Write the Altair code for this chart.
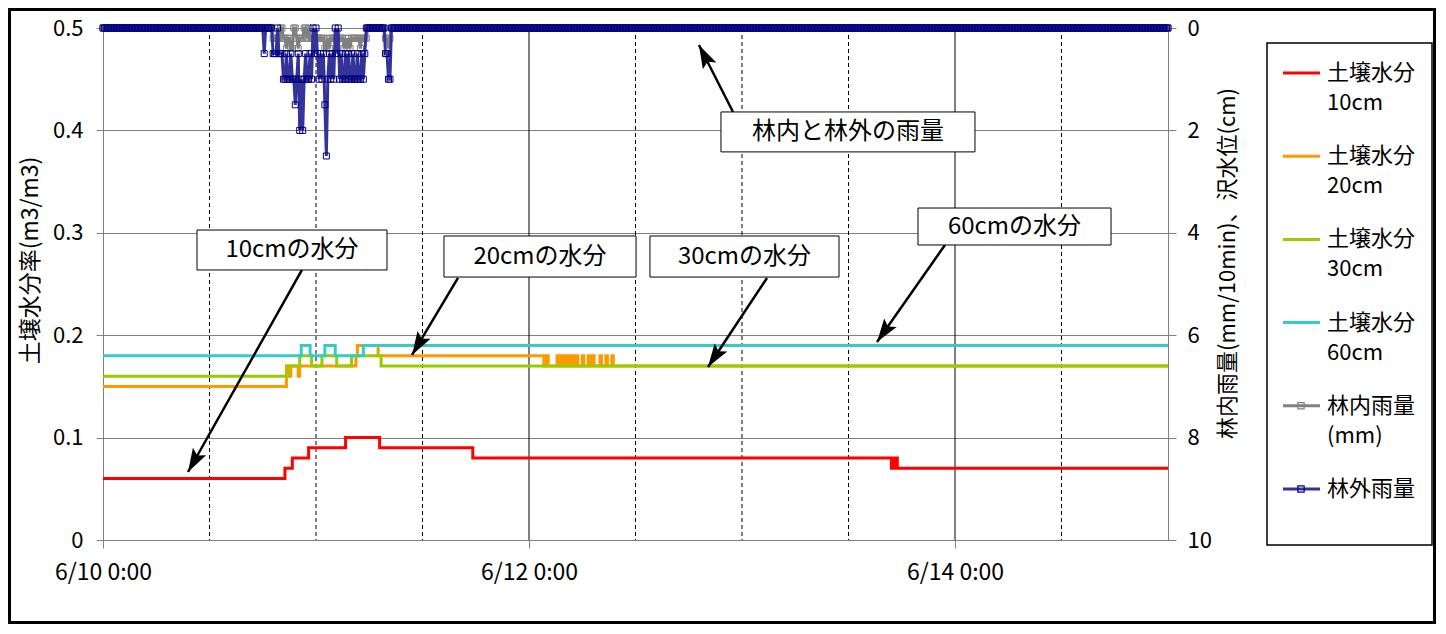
import math
import altair as alt
import pandas as pd

FONT = "Noto Sans CJK JP"

# ---------------- axis ticks ----------------
x_tick_hours = [0, 48, 96]
x_tick_labels = ["6/10 0:00", "6/12 0:00", "6/14 0:00"]
major_grid_hours = [48, 96]
minor_grid_hours = [12, 24, 36, 60, 72, 84, 108]
left_ticks = [0, 0.1, 0.2, 0.3, 0.4, 0.5]
right_ticks = [0, 2, 4, 6, 8, 10]

# ---------------- soil moisture (change points, step) ----------------
red_times = ["6/10 0:00", "6/10 20:30", "6/10 21:20", "6/10 23:10", "6/11 3:20", "6/11 7:10",
             "6/11 17:40", "6/13 16:50", "6/13 17:00", "6/13 17:10", "6/13 17:20", "6/13 17:30", "6/15 0:00"]
red_vals = [0.06, 0.07, 0.08, 0.09, 0.10, 0.09, 0.08, 0.07, 0.08, 0.07, 0.08, 0.07, 0.07]

orange_times = ["6/10 0:00", "6/10 20:40", "6/10 21:00", "6/10 21:10", "6/10 22:00", "6/10 22:10",
                "6/11 4:30", "6/11 4:40", "6/11 7:00"]
orange_vals = [0.15, 0.17, 0.16, 0.17, 0.16, 0.17, 0.18, 0.19, 0.18]
orange_wobble_start = "6/12 1:20"   # 10-minute readings
orange_wobble = [0.18, 0.18, 0.17, 0.17, 0.18, 0.17, 0.17, 0.17, 0.17, 0.17, 0.17, 0.18, 0.17,
                 0.17, 0.18, 0.17, 0.18, 0.17, 0.17, 0.18, 0.17, 0.17, 0.18, 0.17, 0.18, 0.17,
                 0.17, 0.17, 0.18, 0.17, 0.17, 0.17, 0.18, 0.17, 0.17, 0.18, 0.17, 0.17, 0.17,
                 0.17, 0.18, 0.17, 0.17, 0.17, 0.18, 0.17, 0.17, 0.17, 0.18]
orange_after_times = ["6/12 9:30", "6/15 0:00"]
orange_after_vals = [0.17, 0.17]

green_times = ["6/10 0:00", "6/10 20:50", "6/10 22:10", "6/10 23:30", "6/11 0:40", "6/11 2:20",
               "6/11 4:00", "6/11 7:20", "6/15 0:00"]
green_vals = [0.16, 0.17, 0.18, 0.17, 0.18, 0.17, 0.18, 0.17, 0.17]

cyan_times = ["6/10 0:00", "6/10 22:20", "6/10 23:20", "6/11 1:00", "6/11 2:10", "6/11 5:20", "6/15 0:00"]
cyan_vals = [0.18, 0.19, 0.18, 0.19, 0.18, 0.19, 0.19]

# ---------------- rainfall (10-minute values, mm) ----------------
series_start = "6/10 0:00"
series_end = "6/15 0:00"
rain_start = "6/10 18:00"
outside_rain = [0, 0.5, 0, 0, 0, 0, 0, 0.5, 0.5, 0.5, 0, 0.5, 0.5, 0.5, 1.0, 1.0, 0.5, 1.0, 1.0, 0.5,
                1.0, 1.0, 1.5, 1.0, 0.5, 2.0, 1.0, 2.0, 1.0, 0.5, 1.0, 1.0, 0.5, 1.0, 0, 0.5, 0, 0.5,
                1.0, 0.5, 1.0, 0.5, 1.5, 2.5, 1.0, 0.5, 1.0, 0.5, 1.0, 0, 0.5, 0, 1.0, 0.5, 1.0, 1.0,
                0.5, 1.0, 0.5, 1.0, 1.0, 0.5, 1.0, 1.0, 0.5, 1.0, 1.0, 0.5, 1.0, 0.5,
                0, 0, 0, 0, 0, 0, 0, 0, 0, 0, 0, 0, 0, 0.5, 0.5, 1.0, 1.0, 0]
inside_rain = [0, 0, 0, 0, 0, 0, 0, 0.2, 0.2, 0.2, 0.2, 0.2, 0, 0, 0.2, 0.2, 0.4, 0.2, 0.2, 0.4,
               0.4, 0, 0, 0.2, 0.4, 0.2, 0.2, 0.2, 0, 0, 0.2, 0, 0.2, 0.2, 0.2, 0.2, 0.2, 0.2,
               0.2, 0.2, 0.2, 0.2, 0.4, 0.4, 0.2, 0.4, 0.2, 0.2, 0.2, 0.2, 0.2, 0.2, 0.2, 0.2,
               0.2, 0.4, 0.2, 0.4, 0.2, 0.4, 0.2, 0.2, 0.2, 0.2, 0.2, 0.2, 0.4, 0.2, 0.2, 0.2,
               0.2, 0, 0, 0, 0, 0, 0, 0, 0, 0, 0, 0, 0, 0.2, 0.2, 0.4, 0.2, 0]

# ---------------- legend & annotation texts ----------------
legend_line1 = ["土壌水分", "土壌水分", "土壌水分", "土壌水分", "林内雨量", "林外雨量"]
legend_line2 = ["10cm", "20cm", "30cm", "60cm", "(mm)", ""]
legend_colors = ["#FF0000", "#FF9900", "#99CC00", "#33CCCC", "#808080", "#333399"]
legend_marker_colors = ["", "", "", "", "#808080", "#000080"]

annotations = [
    {"text": "林内と林外の雨量", "h0": 69.63, "h1": 98.25, "v0": 0.418, "v1": 0.379,
     "th": 70.99, "tv": 0.418, "hh": 67.15, "hv": 0.4834},
    {"text": "10cmの水分", "h0": 10.59, "h1": 32.0, "v0": 0.3027, "v1": 0.2637,
     "th": 22.42, "tv": 0.2637, "hh": 9.58, "hv": 0.0664},
    {"text": "20cmの水分", "h0": 38.42, "h1": 60.06, "v0": 0.2969, "v1": 0.2568,
     "th": 40.0, "tv": 0.2559, "hh": 34.82, "hv": 0.1807},
    {"text": "30cmの水分", "h0": 61.63, "h1": 82.93, "v0": 0.2969, "v1": 0.2568,
     "th": 74.82, "tv": 0.2559, "hh": 68.17, "hv": 0.169},
    {"text": "60cmの水分", "h0": 91.83, "h1": 113.58, "v0": 0.3242, "v1": 0.2881,
     "th": 94.87, "tv": 0.2881, "hh": 87.21, "hv": 0.1934},
]

# ---------------- helpers ----------------
W, H = 1065, 512


def to_hours(s):
    d, t = s.split(" ")
    _, day = d.split("/")
    hh, mm = t.split(":")
    return (int(day) - 10) * 24 + int(hh) + int(mm) / 60.0


def step_df(times, vals):
    return pd.DataFrame({"h": [to_hours(t) for t in times], "v": vals})


x_end = to_hours(series_end)
xscale = alt.Scale(domain=[to_hours(series_start), x_end], nice=False, zero=False)
xexpr = " : ".join(f"datum.value == {h} ? '{l}'" for h, l in zip(x_tick_hours, x_tick_labels)) + " : ''"
xaxis = alt.Axis(values=x_tick_hours, labelExpr=xexpr, title=None, grid=False,
                 domainColor="#808080", tickColor="#808080", tickSize=8,
                 labelFont=FONT, labelFontSize=23, labelColor="black", labelPadding=13,
                 labelFlush=False, labelOverlap=False, labelBound=False)


def X(field="h"):
    return alt.X(f"{field}:Q", scale=xscale, axis=xaxis)


lscale = alt.Scale(domain=[0, 0.5], nice=False, zero=False)
laxis = alt.Axis(values=left_ticks, labelExpr="datum.value == 0 ? '0' : format(datum.value, '.1f')",
                 title="土壌水分率(m3/m3)", grid=True, gridColor="#808080", gridWidth=1,
                 domainColor="#808080", tickColor="#808080", tickSize=7,
                 labelFont=FONT, labelFontSize=22, labelColor="black", labelPadding=13,
                 titleFont=FONT, titleFontSize=23, titleFontWeight="normal", titleColor="black",
                 titleX=-73, titleY=232, titleAngle=270, titleAlign="center", titleBaseline="middle")


def YL(field="v"):
    return alt.Y(f"{field}:Q", scale=lscale, axis=laxis)


rscale = alt.Scale(domain=[0, 10], reverse=True, nice=False, zero=False)
raxis = alt.Axis(orient="right", values=right_ticks, title="林内雨量(mm/10min)、沢水位(cm)", grid=False,
                 domainColor="#808080", tickColor="#808080", tickSize=8,
                 labelFont=FONT, labelFontSize=22, labelColor="black", labelPadding=11,
                 titleFont=FONT, titleFontSize=22, titleFontWeight="normal", titleColor="black",
                 titleX=59, titleY=235, titleAngle=270, titleAlign="center", titleBaseline="middle")


def YR(field):
    return alt.Y(f"{field}:Q", scale=rscale, axis=raxis)


# ---------------- data frames ----------------
red_df = step_df(red_times, red_vals)
ws = to_hours(orange_wobble_start)
orange_df = pd.concat([
    step_df(orange_times, orange_vals),
    pd.DataFrame({"h": [ws + i / 6.0 for i in range(len(orange_wobble))], "v": orange_wobble}),
    step_df(orange_after_times, orange_after_vals),
], ignore_index=True)
green_df = step_df(green_times, green_vals)
cyan_df = step_df(cyan_times, cyan_vals)

n_total = int(round(x_end * 6)) + 1
r0 = int(round(to_hours(rain_start) * 6))
out_full = [0.0] * n_total
in_full = [0.0] * n_total
for i, v in enumerate(outside_rain):
    out_full[r0 + i] = v
for i, v in enumerate(inside_rain):
    in_full[r0 + i] = v
rain_df = pd.DataFrame({"h": [i / 6.0 for i in range(n_total)], "out": out_full, "inn": in_full})

ann_df = pd.DataFrame(annotations)
ann_df["cx"] = (ann_df["h0"] + ann_df["h1"]) / 2
ann_df["cy"] = (ann_df["v0"] + ann_df["v1"]) / 2
pxh = W / x_end
pxv = H / 0.5


def arrow_angle(r):
    dx = (r["hh"] - r["th"]) * pxh
    dy = -(r["hv"] - r["tv"]) * pxv
    return math.degrees(math.atan2(dx, -dy)) % 360


ann_df["ang"] = ann_df.apply(arrow_angle, axis=1)

grid_df = pd.DataFrame({"h": major_grid_hours})
mgrid_df = pd.DataFrame({"h": minor_grid_hours})

leg_df = pd.DataFrame({"l1": legend_line1, "l2": legend_line2, "c": legend_colors, "mc": legend_marker_colors})
leg_df["y1"] = [45 + 83.2 * i for i in range(len(leg_df))]
leg_df["y2"] = leg_df["y1"] + 30
mark_df = leg_df[leg_df["mc"] != ""]
one = pd.DataFrame({"k": [0]})

# ---------------- soil group ----------------
major = alt.Chart(grid_df).mark_rule(color="black", strokeWidth=1).encode(x=X())
minor = alt.Chart(mgrid_df).mark_rule(color="black", strokeWidth=1, strokeDash=[4, 3]).encode(x=X())


def soil_line(df, color):
    return alt.Chart(df).mark_line(interpolate="step-after", color=color, strokeWidth=3).encode(x=X(), y=YL())


arrows = alt.Chart(ann_df).mark_rule(color="black", strokeWidth=2.5).encode(
    x=X("th"), x2="hh", y=YL("tv"), y2="hv")
heads = alt.Chart(ann_df).mark_point(shape="M0,0L0.42,1.3L0,1.05L-0.42,1.3Z", filled=True, color="black",
                                      size=1300, opacity=1, strokeWidth=0).encode(
    x=X("hh"), y=YL("hv"), angle=alt.Angle("ang:Q", scale=None))
boxes = alt.Chart(ann_df).mark_rect(fill="white", stroke="black", strokeWidth=1).encode(
    x=X("h0"), x2="h1", y=YL("v0"), y2="v1")
btext = alt.Chart(ann_df).mark_text(font=FONT, fontSize=24, color="black", baseline="middle", align="center").encode(
    x=X("cx"), y=YL("cy"), text="text:N")

leg_box = alt.Chart(one).mark_rect(fill="white", stroke="black", strokeWidth=1.5).encode(
    x=alt.value(1164), x2=alt.value(1329), y=alt.value(15), y2=alt.value(517))
leg_lines = alt.Chart(leg_df).mark_rule(strokeWidth=3).encode(
    x=alt.value(1180), x2=alt.value(1217), y=alt.Y("y1:Q", scale=None), color=alt.Color("c:N", scale=None))
leg_marks = alt.Chart(mark_df).mark_point(shape="square", filled=False, size=40, strokeWidth=1.2, opacity=1).encode(
    x=alt.value(1198), y=alt.Y("y1:Q", scale=None), color=alt.Color("mc:N", scale=None))
leg_t1 = alt.Chart(leg_df).mark_text(font=FONT, fontSize=22, color="black", align="left", baseline="middle").encode(
    x=alt.value(1224), y=alt.Y("y1:Q", scale=None), text="l1:N")
leg_t2 = alt.Chart(leg_df).mark_text(font=FONT, fontSize=22, color="black", align="left", baseline="middle").encode(
    x=alt.value(1224), y=alt.Y("y2:Q", scale=None), text="l2:N")
frame = alt.Chart(one).mark_rect(fillOpacity=0, stroke="black", strokeWidth=3).encode(
    x=alt.value(-93.5), x2=alt.value(1331.5), y=alt.value(-18.5), y2=alt.value(594.5))

soil_group = alt.layer(
    major, minor,
    soil_line(red_df, "#FF0000"), soil_line(orange_df, "#FF9900"),
    soil_line(green_df, "#99CC00"), soil_line(cyan_df, "#33CCCC"),
    arrows, heads, boxes, btext,
    leg_box, leg_lines, leg_marks, leg_t1, leg_t2, frame,
)

# ---------------- rain group ----------------
gray_line = alt.Chart(rain_df).mark_line(color="#808080", strokeWidth=3).encode(x=X(), y=YR("inn"))
gray_pts = alt.Chart(rain_df).mark_point(shape="square", filled=False, color="#808080", size=36,
                                         strokeWidth=1, opacity=1).encode(x=X(), y=YR("inn"))
blue_line = alt.Chart(rain_df).mark_line(color="#333399", strokeWidth=3).encode(x=X(), y=YR("out"))
blue_pts = alt.Chart(rain_df).mark_point(shape="square", filled=False, color="#000080", size=36,
                                         strokeWidth=1, opacity=1).encode(x=X(), y=YR("out"))
rain_group = alt.layer(gray_line, gray_pts, blue_line, blue_pts)

chart = alt.layer(soil_group, rain_group).resolve_scale(y="independent").properties(
    width=W, height=H,
    padding={"left": 95, "top": 20, "right": 268, "bottom": 84},
    autosize=alt.AutoSizeParams(type="none"),
    background="white",
).configure_view(stroke=None)

chart.save("out.html", embed_options={"renderer": "svg", "actions": False})
